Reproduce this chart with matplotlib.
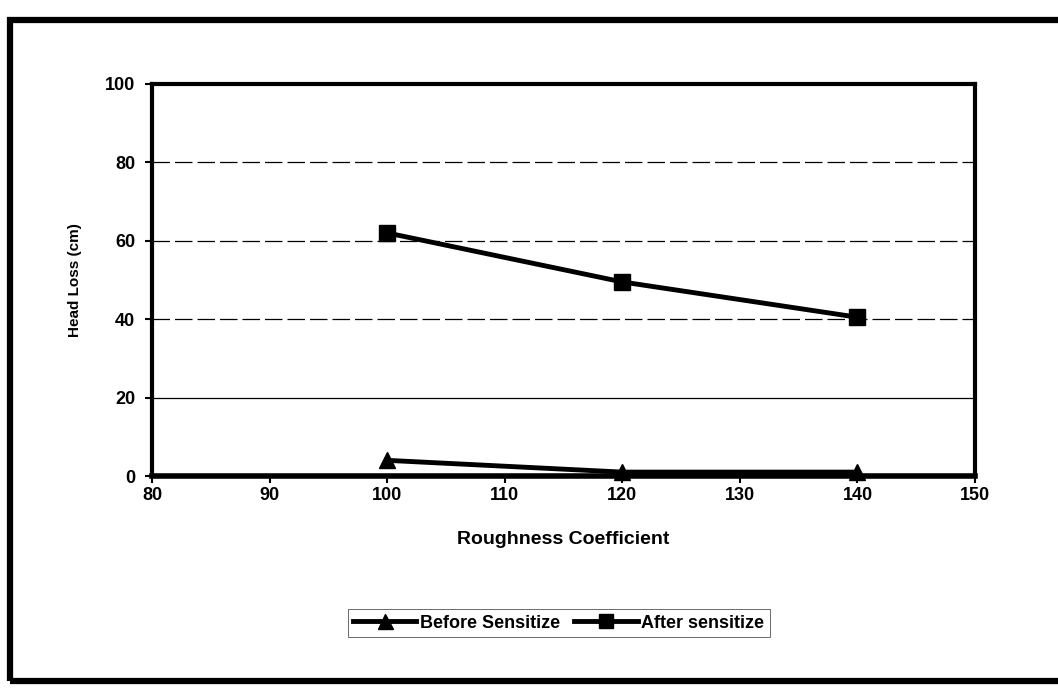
import matplotlib.pyplot as plt
from matplotlib.patches import Rectangle

plt.rcParams['font.family'] = ['Liberation Sans', 'DejaVu Sans']
plt.rcParams['font.weight'] = 'bold'

# roughness coefficient vs head loss
roughness = [100, 120, 140]
before_sensitize = [4, 1, 1]
after_sensitize = [62, 49.5, 40.5]

x_ticks = [80, 90, 100, 110, 120, 130, 140, 150]
y_ticks = [0, 20, 40, 60, 80, 100]

fig = plt.figure(figsize=(10.58, 6.88), dpi=100)
ax = fig.add_axes([0.1437, 0.3081, 0.7779, 0.5699])

# horizontal gridlines
for y in y_ticks[1:-1]:
    style = '-' if y == 20 else (0, (14, 4))
    ax.axhline(y, color='black', lw=0.9, linestyle=style, zorder=1)

ax.plot(roughness, before_sensitize, color='black', lw=3.5, marker='^',
        markersize=12, label='Before Sensitize', clip_on=False, zorder=3)
ax.plot(roughness, after_sensitize, color='black', lw=3.5, marker='s',
        markersize=11, label='After sensitize', clip_on=False, zorder=3)

ax.set_xlim(80, 150)
ax.set_ylim(0, 100)
ax.set_xticks(x_ticks)
ax.set_yticks(y_ticks)
ax.tick_params(axis='both', labelsize=13, width=1.5, length=5, direction='out')
ax.tick_params(axis='x', pad=3)
ax.tick_params(axis='y', pad=7)
for lbl in ax.get_xticklabels() + ax.get_yticklabels():
    lbl.set_fontweight('bold')

for side in ['left', 'right', 'top']:
    ax.spines[side].set_linewidth(3)
ax.spines['bottom'].set_linewidth(4)

ax.set_xlabel('Roughness Coefficient', fontsize=14, fontweight='bold', labelpad=19)
ax.set_ylabel('Head Loss (cm)', fontsize=11, fontweight='bold', labelpad=17)

leg = fig.legend(loc='center', bbox_to_anchor=(0.528, 1 - 623 / 688), ncol=2,
                 fontsize=13, handlelength=3.5, handletextpad=0.2, columnspacing=0.8,
                 frameon=True, fancybox=False, borderpad=0.3, markerscale=0.9)
leg.get_frame().set_edgecolor('#444444')
leg.get_frame().set_linewidth(0.7)
for t in leg.get_texts():
    t.set_fontweight('bold')

# outer chart frame
fig.patches.append(Rectangle((0.009, 1 - 681 / 688), 1.2, (681 - 20) / 688,
                             transform=fig.transFigure, fill=False,
                             edgecolor='black', lw=4.5))

fig.savefig('out.png', dpi=100)
